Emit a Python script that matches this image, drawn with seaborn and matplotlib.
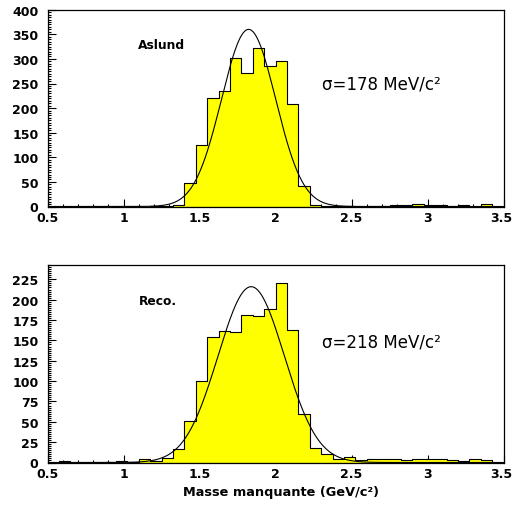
import numpy as np
import pandas as pd
import matplotlib
matplotlib.use("Agg")
import matplotlib.pyplot as plt
import seaborn as sns
from matplotlib.ticker import MultipleLocator, FormatStrFormatter

# Data: 40 bins of 0.075 GeV/c^2 from 0.5 to 3.5
bin_edges = np.linspace(0.5, 3.5, 41)

# Top panel (Aslund) bin contents
aslund_counts = [0, 0, 0, 0, 0, 0, 0, 0, 0, 1,
                 2, 3, 47, 125, 220, 234, 301, 271, 323, 285,
                 296, 208, 41, 3, 2, 1, 1, 0, 1, 1,
                 4, 4, 5, 3, 3, 2, 3, 0, 5, 0]
# Bottom panel (Reco.) bin contents
reco_counts = [0, 2, 0, 0, 0, 1, 2, 1, 4, 2,
               5, 16, 51, 100, 154, 161, 160, 181, 180, 188,
               221, 163, 59, 18, 11, 4, 7, 3, 4, 4,
               4, 3, 4, 4, 4, 3, 2, 4, 3, 0]

# Gaussian fit parameters (amplitude, mean, sigma)
aslund_fit = (360, 1.823, 0.178)
reco_fit = (216, 1.84, 0.218)

panel_labels = ["Aslund", "Reco."]
sigma_labels = ["σ=178 MeV/c²", "σ=218 MeV/c²"]
x_ticks = [0.5, 1, 1.5, 2, 2.5, 3, 3.5]
y_max = [400, 243]
y_major = [50, 25]
y_minor = [5, 2.5]

sns.set_style("ticks")
plt.rcParams["font.family"] = ["DejaVu Sans"]
plt.rcParams["text.color"] = "black"
plt.rcParams["axes.labelcolor"] = "black"

fig = plt.figure(figsize=(5.13, 5.06), dpi=100)
W, H = 513, 506
left, right = 47.5 / W, 503.5 / W
ax_top = fig.add_axes([left, 1 - 207.5 / H, right - left, (207.5 - 10.7) / H])
ax_bot = fig.add_axes([left, 1 - 463.5 / H, right - left, (463.5 - 265.7) / H])

centers = (bin_edges[:-1] + bin_edges[1:]) / 2
xs = np.linspace(0.5, 3.5, 600)
label_pos = [(0.198, 0.822), (0.201, 0.818)]
sigma_pos = [(0.601, 0.626), (0.601, 0.614)]

for i, (ax, counts, fit) in enumerate(zip([ax_top, ax_bot],
                                          [aslund_counts, reco_counts],
                                          [aslund_fit, reco_fit])):
    df = pd.DataFrame({"mass": centers, "n": counts})
    sns.histplot(data=df, x="mass", weights="n", bins=len(centers),
                 binrange=(bin_edges[0], bin_edges[-1]), element="step",
                 fill=True, color="#ffff00", edgecolor="black", alpha=1,
                 linewidth=0.8, ax=ax)
    amp, mu, sig = fit
    ax.plot(xs, amp * np.exp(-0.5 * ((xs - mu) / sig) ** 2), color="black", lw=0.8)

    ax.set_xlim(0.5, 3.5)
    ax.set_ylim(0, y_max[i])
    ax.set_ylabel("")
    ax.set_xlabel("")
    # last x label (3.5) is drawn separately so it stays inside the figure
    ax.set_xticks(x_ticks)
    ax.set_xticklabels(["%g" % t for t in x_ticks[:-1]] + [""])
    ax.xaxis.set_minor_locator(MultipleLocator(0.1))
    ax.yaxis.set_major_locator(MultipleLocator(y_major[i]))
    ax.yaxis.set_minor_locator(MultipleLocator(y_minor[i]))
    ax.yaxis.set_major_formatter(FormatStrFormatter("%g"))
    ax.tick_params(which="both", direction="in", top=False, right=False,
                   width=0.8, labelsize=9, colors="black")
    ax.tick_params(which="major", length=6)
    ax.tick_params(which="minor", length=2.5)
    ax.tick_params(axis="x", pad=3)
    ax.tick_params(axis="y", pad=6.5)
    for s in ax.spines.values():
        s.set_linewidth(0.9)
        s.set_color("black")
    for lab in ax.get_xticklabels() + ax.get_yticklabels():
        lab.set_fontweight("bold")
    ax.annotate("%g" % x_ticks[-1], xy=(1, 0), xycoords="axes fraction",
                xytext=(6.3, -3), textcoords="offset points",
                ha="right", va="top", fontsize=9, fontweight="bold")

    ax.text(*label_pos[i], panel_labels[i], transform=ax.transAxes,
            fontsize=8.8, fontweight="bold", ha="left", va="center")
    ax.text(*sigma_pos[i], sigma_labels[i], transform=ax.transAxes,
            fontsize=12, ha="left", va="center")

ax_bot.set_xlabel("Masse manquante (GeV/c²)", fontsize=9.3, fontweight="bold")
ax_bot.xaxis.set_label_coords(0.513, -0.112)

fig.savefig("out.png", dpi=100)
